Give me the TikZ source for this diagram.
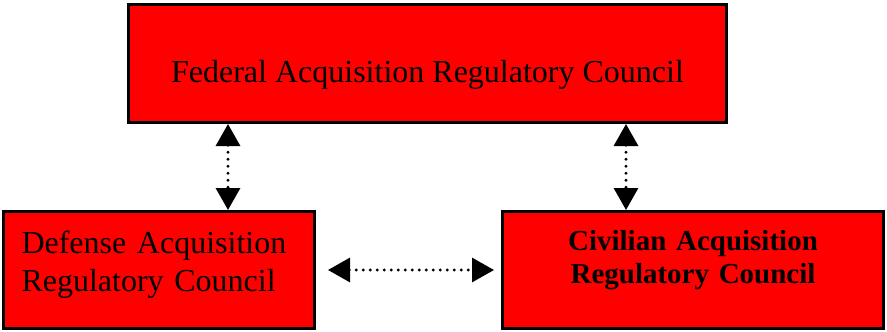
\documentclass[tikz,border=0pt]{standalone}
\usepackage{fontspec}
\setmainfont{Liberation Serif}
\usetikzlibrary{arrows.meta}

\begin{document}
\begin{tikzpicture}[x=1pt,y=1pt,<->,>={Triangle[width=24pt,length=22pt]},thick,
    council/.style={rectangle,draw=black,line width=3pt,fill=red,font=\fontsize{32}{38}\selectfont},
    link/.style={line width=3.2pt,line cap=round,dash pattern=on 0pt off 7pt}]
    \useasboundingbox (0,0) rectangle (887,-332);
    \node[council,minimum width=598pt,minimum height=118pt,text height=44pt] (far) at (427.5,-63.5) {Federal Acquisition Regulatory Council};
    \node[council,minimum width=311pt,minimum height=117pt,inner xsep=18pt,text width=275pt,align=left,text depth=56pt] (dar) at (159,-270) {Defense Acquisition\\Regulatory Council};
    \node[council,minimum width=381pt,minimum height=117pt,text width=360pt,align=center,text depth=60pt,font=\fontsize{29}{33}\selectfont\bfseries] (car) at (693,-270) {Civilian Acquisition\\Regulatory Council};

    \path[link]
        ([xshift=69pt]dar.north |- far.south) edge ([xshift=69pt]dar.north)
        ([xshift=-67pt]car.north |- far.south) edge ([xshift=-67pt]car.north)
        (dar) edge[shorten <=12pt,shorten >=7pt] (car)
    ;
\end{tikzpicture}
\end{document}
